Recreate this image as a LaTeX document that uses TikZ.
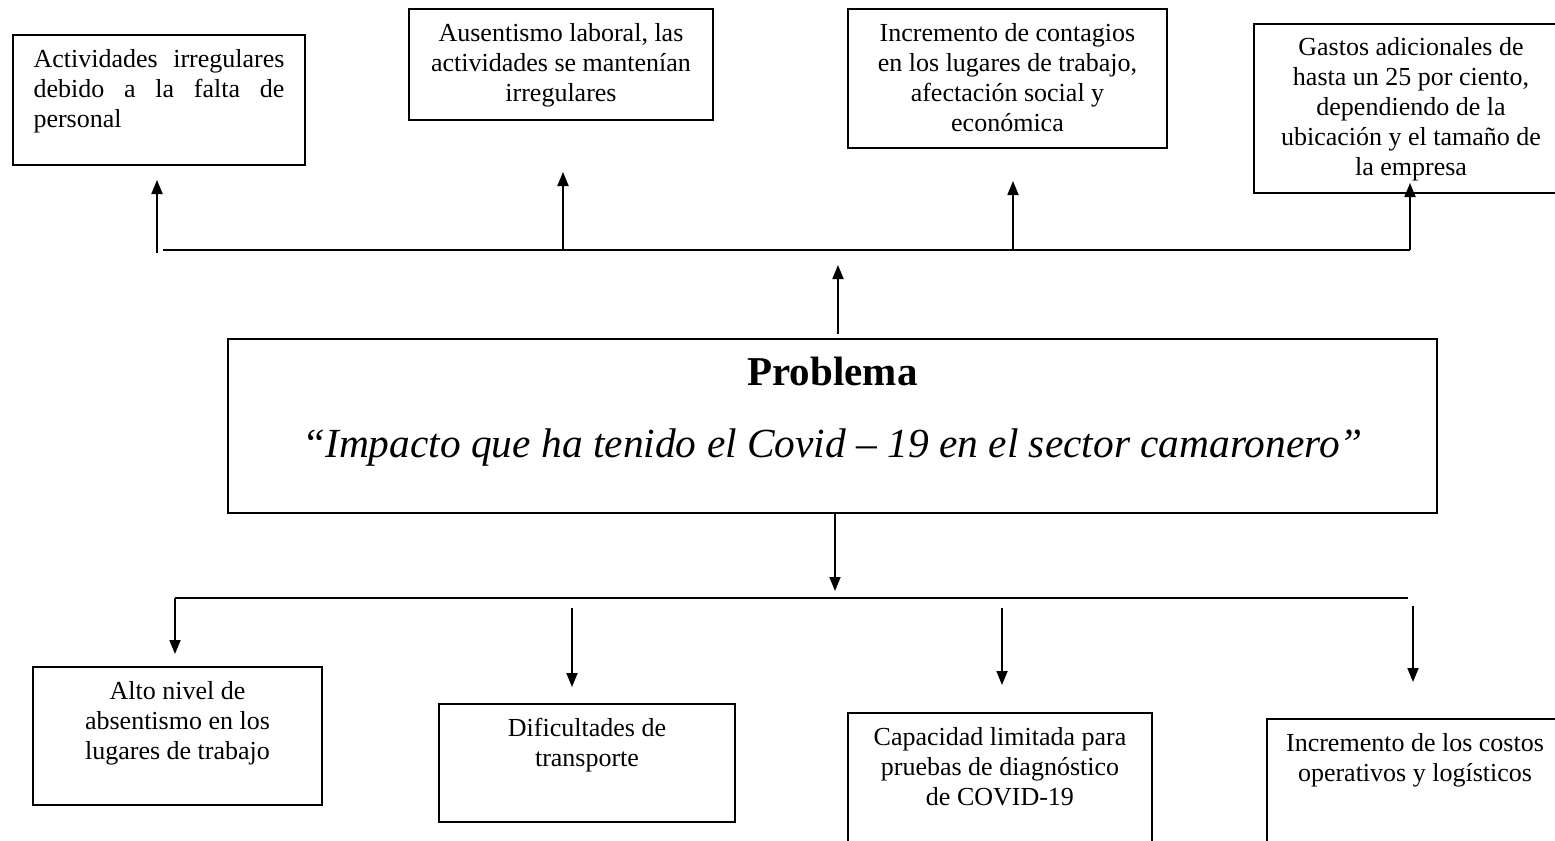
\documentclass[tikz,border=0pt]{standalone}
\usepackage{fontspec}
\setmainfont{Liberation Serif}
\usetikzlibrary{arrows.meta}
\tikzstyle{caja}=[rectangle,draw,line width=1pt,inner sep=0pt]
\tikzstyle{texto}=[anchor=north,inner sep=0pt,align=center,font=\fontsize{13}{15}\selectfont]
\tikzstyle{flecha}=[line width=0.9pt,-{Triangle[length=7pt,width=5.5pt]}]
\tikzstyle{linea}=[line width=0.9pt]
\newcommand{\caja}{\node[caja]}

\begin{document}
\begin{tikzpicture}[x=0.5pt,y=-0.5pt]
		\useasboundingbox (0,0) rectangle (1555,841);
		\clip (0,0) rectangle (1555,841);
		% % % % % % % % % % % % % % % % % % % % % % % % % % % % %
		%*********************
		\caja [minimum width=146pt,minimum height=65pt,
		label={[texto,text width=125.5pt,align=justify,yshift=-7.5pt]north:Actividades irregulares\linebreak debido a la falta de\linebreak personal}] (e1) at (159,100) {};
		\caja [minimum width=152pt,minimum height=55.5pt,
		label={[texto,yshift=-7.5pt]north:Ausentismo laboral, las\\actividades se mantenían\\irregulares}] (e2) at (561,64.5) {};
		\caja [minimum width=159.5pt,minimum height=69.5pt,
		label={[texto,yshift=-7.5pt]north:Incremento de contagios\\en los lugares de trabajo,\\afectación social y\\económica}] (e3) at (1007.5,78.5) {};
		\caja [minimum width=157pt,minimum height=84.5pt,
		label={[texto,yshift=-7pt]north:Gastos adicionales de\\hasta un 25 por ciento,\\dependiendo de la\\ubicación y el tamaño de\\la empresa}] (e4) at (1411,108.5) {};
		%*********************
		\caja [minimum width=604.5pt,minimum height=87pt,
		label={[anchor=base,inner sep=0pt,font=\fontsize{20.5}{24}\selectfont\bfseries,yshift=-23.5pt]north:Problema},
		label={[anchor=base,inner sep=0pt,font=\fontsize{20.7}{24}\selectfont\itshape,yshift=-59.5pt]north:“Impacto que ha tenido el Covid – 19 en el sector camaronero”}] (p) at (832.5,426) {};
		%*********************
		\caja [minimum width=144.5pt,minimum height=69pt,
		label={[texto,yshift=-7.5pt]north:Alto nivel de\\absentismo en los\\lugares de trabajo}] (c1) at (177.5,736) {};
		\caja [minimum width=148pt,minimum height=59pt,
		label={[texto,yshift=-7.5pt]north:Dificultades de\\transporte}] (c2) at (587,763) {};
		\caja [minimum width=152pt,minimum height=73.5pt,
		label={[texto,yshift=-7.5pt]north:Capacidad limitada para\\pruebas de diagnóstico\\de COVID-19}] (c3) at (1000,786.5) {};
		\caja [minimum width=148pt,minimum height=70.5pt,
		label={[texto,yshift=-7.5pt]north:Incremento de los costos\\operativos y logísticos}] (c4) at (1415,789.5) {};
		%*********************
		\coordinate (s1) at (163,250);
		\coordinate (s2) at (1410,250);
		\coordinate (a1) at (157,253);
		\coordinate (b1) at (157,180);
		\coordinate (a2) at (563,250);
		\coordinate (b2) at (563,172);
		\coordinate (a3) at (1013,250);
		\coordinate (b3) at (1013,181);
		\coordinate (b4) at (1410,183);
		\coordinate (pa) at (838,265);
		%*********************
		\coordinate (pb) at (835,591);
		\coordinate (i1) at (175,598);
		\coordinate (i2) at (1408,598);
		\coordinate (d1) at (175,654);
		\coordinate (f2) at (572,608);
		\coordinate (d2) at (572,687);
		\coordinate (f3) at (1002,608);
		\coordinate (d3) at (1002,685);
		\coordinate (f4) at (1413,606);
		\coordinate (d4) at (1413,682);
		%*********************
		
		\path
		% % % % % % % % % % % % % % % % %
		%**************
		(s1) edge [linea] (s2)
		(a1) edge [flecha] (b1)
		(a2) edge [flecha] (b2)
		(a3) edge [flecha] (b3)
		(s2) edge [flecha] (b4)
		([yshift=2pt]p.north -| pa) edge [flecha] (pa)
		%**************
		(p.south -| pb) edge [flecha] (pb)
		(i1) edge [linea] (i2)
		(i1) edge [flecha] (d1)
		(f2) edge [flecha] (d2)
		(f3) edge [flecha] (d3)
		(f4) edge [flecha] (d4)
		%********************
		;
\end{tikzpicture}
\end{document}
